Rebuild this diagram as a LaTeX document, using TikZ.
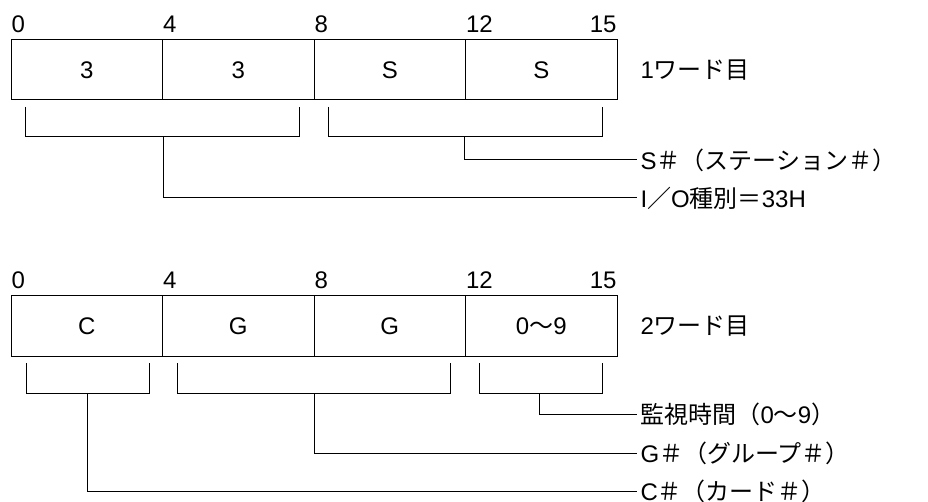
\documentclass[tikz,border=0pt]{standalone}
\usepackage{fontspec}
\setmainfont{Liberation Sans}
\newfontfamily\jp{Noto Sans CJK JP}
\usetikzlibrary{calc}

\begin{document}
\begin{tikzpicture}[x=1pt,y=-1pt,line width=1pt,
    every node/.style={font=\fontsize{24}{28}\selectfont},
    cell/.style={draw,minimum width=151.5pt,minimum height=60pt,inner sep=0pt,outer sep=0pt,anchor=north west},
    bit/.style={anchor=base west,inner sep=0pt},
    bitend/.style={anchor=base east,inner sep=0pt},
    lbl/.style={anchor=west,inner sep=3pt}]
    \useasboundingbox (0,0) rectangle (928,502);
    % 1ワード目
    \node[cell] (a0) at (11,40) {3};
    \node[cell] (a4) at (162.5,40) {3};
    \node[cell] (a8) at (314,40) {S};
    \node[cell] (a12) at (465.5,40) {S};
    \node[bit] (ba0) at (11,33) {0};
    \node[bit] (ba4) at (162.5,33) {4};
    \node[bit] (ba8) at (314,33) {8};
    \node[bit] (ba12) at (465.5,33) {12};
    \node[bitend] (ba15) at (617,33) {15};
    \node[lbl] (w1) at (637,70) {1{\jp ワード目}};
    \draw (25,107) -- (25,137) -- (299,137) -- (299,107);
    \draw (328,107) -- (328,137) -- (602,137) -- (602,107);
    \coordinate (sa1) at (163,137);
    \coordinate (sa2) at (464,137);
    \node[lbl] (sta) at (637,160) {S{\jp ＃（ステーション＃）}};
    \node[lbl] (io) at (637,198) {I{\jp ／}O{\jp 種別＝}33H};
    \draw (sa2) |- (sta.west);
    \draw (sa1) |- (io.west);
    % 2ワード目
    \begin{scope}[shift={(0,256)}]
        \node[cell] (c0) at (11,40) {C};
        \node[cell] (c4) at (162.5,40) {G};
        \node[cell] (c8) at (314,40) {G};
        \node[cell] (c12) at (465.5,40) {0{\jp 〜}9};
        \node[bit] (bc0) at (11,33) {0};
        \node[bit] (bc4) at (162.5,33) {4};
        \node[bit] (bc8) at (314,33) {8};
        \node[bit] (bc12) at (465.5,33) {12};
        \node[bitend] (bc15) at (617,33) {15};
        \node[lbl] (w2) at (637,70) {2{\jp ワード目}};
        \draw (26,107) -- (26,137) -- (149,137) -- (149,107);
        \draw (177,107) -- (177,137) -- (450,137) -- (450,107);
        \draw (479,107) -- (479,137) -- (602,137) -- (602,107);
        \coordinate (sc1) at (87,137);
        \coordinate (sc2) at (314,137);
        \coordinate (sc3) at (539,137);
        \node[lbl] (tim) at (637,158) {{\jp 監視時間（}0{\jp 〜}9{\jp ）}};
        \node[lbl] (grp) at (637,197) {G{\jp ＃（グループ＃）}};
        \node[lbl] (crd) at (637,235) {C{\jp ＃（カード＃）}};
        \draw (sc3) |- (tim.west);
        \draw (sc2) |- (grp.west);
        \draw (sc1) |- (crd.west);
    \end{scope}
\end{tikzpicture}
\end{document}
